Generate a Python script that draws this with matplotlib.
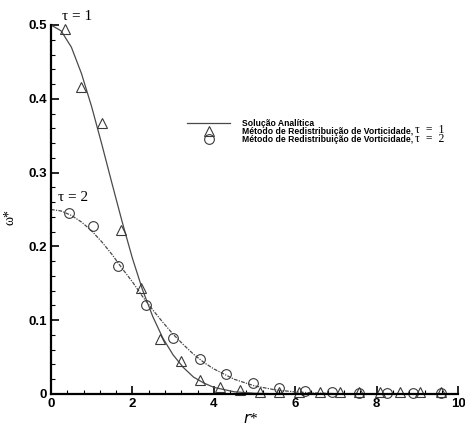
import matplotlib
matplotlib.use("Agg")
import matplotlib.pyplot as plt
from matplotlib.ticker import MultipleLocator

# analytic solution
r_line = [0.0, 0.25, 0.5, 0.75, 1.0, 1.25, 1.5, 1.75, 2.0, 2.25, 2.5, 2.75,
          3.0, 3.25, 3.5, 3.75, 4.0, 4.5, 5.0, 5.5, 6.0, 6.5, 7.0, 8.0, 9.0, 10.0]
w_line_t1 = [0.500, 0.492, 0.470, 0.434, 0.389, 0.338, 0.285, 0.233, 0.184,
             0.141, 0.105, 0.0755, 0.053, 0.036, 0.023, 0.015, 0.009, 0.003,
             0.001, 0.0003, 0.0, 0.0, 0.0, 0.0, 0.0, 0.0]
w_line_t2 = [0.250, 0.248, 0.242, 0.233, 0.221, 0.206, 0.189, 0.170, 0.152,
             0.132, 0.114, 0.097, 0.081, 0.067, 0.054, 0.043, 0.034, 0.020,
             0.011, 0.0057, 0.0028, 0.0013, 0.0005, 0.0, 0.0, 0.0]

# vorticity redistribution method, tau = 1
tri_r = [0.34, 0.74, 1.25, 1.72, 2.21, 2.68, 3.2, 3.66, 4.15, 4.64, 5.13,
         5.6, 6.1, 6.6, 7.1, 7.57, 8.08, 8.57, 9.07, 9.58]
tri_w = [0.495, 0.416, 0.367, 0.222, 0.144, 0.074, 0.045, 0.019, 0.010,
         0.005, 0.003, 0.003, 0.003, 0.003, 0.003, 0.003, 0.003, 0.003,
         0.003, 0.003]

# vorticity redistribution method, tau = 2
circ_r = [0.44, 1.03, 1.65, 2.33, 3.0, 3.66, 4.3, 4.96, 5.6, 6.25, 6.9,
          7.57, 8.25, 8.9, 9.58]
circ_w = [0.245, 0.228, 0.173, 0.121, 0.076, 0.047, 0.027, 0.015, 0.008,
          0.004, 0.003, 0.002, 0.002, 0.002, 0.002]

labels = ["Solução Analítica",
          "Método de Redistribuição de Vorticidade,",
          "Método de Redistribuição de Vorticidade,"]
tau_labels = ["τ  =  1", "τ  =  2"]

line_c = "#4a4a4a"
mk_c = "#3a3a3a"

fig = plt.figure(figsize=(4.65, 4.28), dpi=100)
ax = fig.add_axes([51 / 465, 34 / 428, 407 / 465, 369 / 428])

l1, = ax.plot(r_line, w_line_t1, color=line_c, lw=0.9)
ax.plot(r_line, w_line_t2, color=line_c, lw=0.9,
        linestyle=(0, (3, 1, 1, 1)))
m1, = ax.plot(tri_r, tri_w, linestyle="none", marker="^", ms=7.5,
              mfc="none", mec=mk_c, mew=0.8, clip_on=False)
m2, = ax.plot(circ_r, circ_w, linestyle="none", marker="o", ms=7,
              mfc="none", mec=mk_c, mew=0.8, clip_on=False)

ax.set_xlim(0, 10)
ax.set_ylim(0, 0.5)
ax.xaxis.set_major_locator(MultipleLocator(2))
ax.xaxis.set_minor_locator(MultipleLocator(0.4))
ax.yaxis.set_major_locator(MultipleLocator(0.1))
ax.yaxis.set_minor_locator(MultipleLocator(0.02))
ax.yaxis.set_major_formatter(lambda v, p: "0" if v == 0 else f"{v:.1f}")
ax.xaxis.set_major_formatter(lambda v, p: f"{v:.0f}")

for s in ["top", "right"]:
    ax.spines[s].set_visible(False)
for s in ["left", "bottom"]:
    ax.spines[s].set_linewidth(1.6)
ax.tick_params(which="major", direction="in", length=5.5, width=1.2,
               labelsize=9.5, pad=3)
ax.tick_params(which="minor", direction="in", length=3, width=0.8)
for t in ax.get_xticklabels() + ax.get_yticklabels():
    t.set_fontweight("bold")
    t.set_family("Liberation Sans")

ax.set_xlabel("$r$*", fontsize=11, family="Liberation Serif")
ax.xaxis.set_label_coords(0.49, -0.048)
ax.set_ylabel("ω*", fontsize=10, family="Liberation Serif")
ax.yaxis.set_label_coords(-0.085, 0.48)

ax.text(0.28, 0.503, "τ = 1", fontsize=11, family="Liberation Serif",
        ha="left", va="bottom", clip_on=False)
ax.text(0.18, 0.257, "τ = 2", fontsize=11, family="Liberation Serif",
        ha="left", va="bottom")

leg = ax.legend([l1, m1, m2], labels, loc="upper left",
                bbox_to_anchor=(0.335, 0.745), frameon=False,
                prop={"family": "Liberation Sans", "weight": "bold",
                      "size": 6.2},
                handlelength=5.0, handletextpad=1.3, labelspacing=-0.12,
                borderpad=0, borderaxespad=0)
# tau values next to the last two legend entries, one text block
ax.annotate("\n".join(tau_labels), xy=(1, 0), xycoords=leg.get_texts()[2],
            xytext=(1.5, -0.5), textcoords="offset points", fontsize=8.5,
            family="Liberation Serif", linespacing=0.68,
            va="bottom", ha="left", zorder=10)

fig.savefig("out.png", dpi=100)
